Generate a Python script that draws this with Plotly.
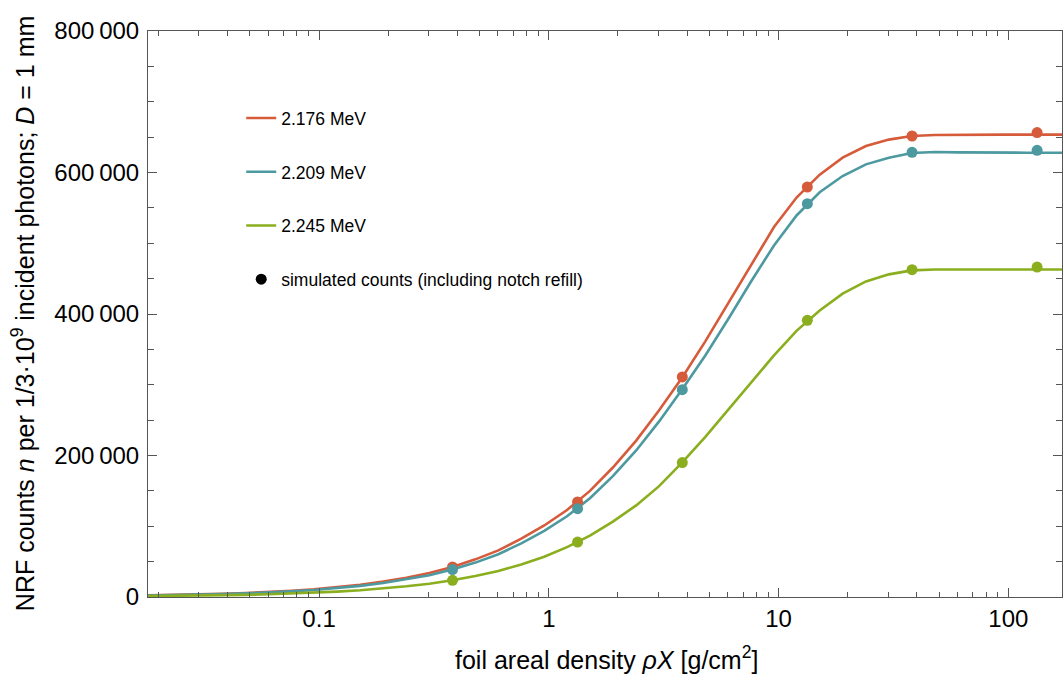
import plotly.graph_objects as go

# ---------------- data ----------------
# curve sample positions (foil areal density, g/cm^2)
x_curve = [0.0151, 0.019, 0.024, 0.030, 0.038, 0.048, 0.060, 0.076, 0.095, 0.120,
           0.151, 0.190, 0.240, 0.302, 0.380, 0.479, 0.603, 0.759, 0.955, 1.20,
           1.51, 1.90, 2.40, 3.02, 3.80, 4.79, 6.03, 7.59, 9.55, 12.0,
           15.1, 19.0, 24.0, 30.2, 38.0, 47.9, 60.3, 75.9, 95.5, 120.0,
           151.0, 190.0]

# NRF counts along the curves
red_curve = [1770, 2220, 2800, 3500, 4430, 5590, 6970, 8810, 10990, 13850,
             17360, 21750, 27320, 33900, 42500, 53200, 65900, 82500, 101100, 123000,
             150000, 183000, 221000, 264000, 310000, 361000, 415000, 471000, 523000, 565000,
             597000, 621000, 637500, 646500, 651500, 653000, 653500, 653500, 653500, 653500,
             653500, 653500]
teal_curve = [1600, 2010, 2530, 3170, 4010, 5060, 6310, 7980, 9950, 12550,
              15730, 19750, 24800, 30800, 38800, 48600, 60400, 75900, 93500, 114100,
              139600, 170900, 207100, 248200, 293300, 341100, 392600, 446000, 496900, 539600,
              572000, 595000, 611500, 621000, 627500, 629000, 628500, 628000, 628000, 628000,
              628000, 628000]
green_curve = [960, 1210, 1530, 1910, 2420, 3060, 3820, 4830, 6030, 7610,
               9550, 11980, 15080, 18760, 23600, 29650, 36700, 46000, 56900, 70400,
               86600, 106600, 129500, 156700, 190000, 226000, 264000, 303000, 341500, 376500,
               405000, 428800, 446000, 456000, 461700, 463000, 463000, 463000, 463000, 463000,
               463000, 463000]

# simulated points
x_points = [0.381, 1.334, 3.81, 13.34, 38.1, 133.4]
red_points = [42400, 134300, 311000, 579500, 651600, 656400]
teal_points = [38700, 124900, 293100, 556000, 628500, 631400]
green_points = [23600, 77700, 190000, 391000, 462700, 466400]

series_names = ["2.176 MeV", "2.209 MeV", "2.245 MeV"]
points_name = "simulated counts (including notch refill)"

x_tickvals = [0.1, 1, 10, 100]
x_ticktext = ["0.1", "1", "10", "100"]
x_minor = [m * d for d in [0.01, 0.1, 1, 10, 100] for m in range(2, 10)]
y_tickvals = [0, 200000, 400000, 600000, 800000]
y_ticktext = ["0", "200\u2009000", "400\u2009000", "600\u2009000", "800\u2009000"]

x_title = "foil areal density <i>ρX</i> [g/cm<sup>2</sup>]"
y_title = "NRF counts <i>n</i> per 1/3·10<sup>9</sup> incident photons; <i>D</i> = 1 mm"

colors = ["#D65B3B", "#4D99A0", "#8AAE1E"]
FONT = "Liberation Sans, Arial, Helvetica, sans-serif"
FRAME = "#555555"

fig = go.Figure()

curves = [red_curve, teal_curve, green_curve]
pts = [red_points, teal_points, green_points]

for name, ys, c in zip(series_names, curves, colors):
    fig.add_trace(go.Scatter(x=x_curve, y=ys, mode="lines", name=name,
                             legendgroup=name,
                             line=dict(color=c, width=2.6)))

for name, ys, c in zip(series_names, pts, colors):
    fig.add_trace(go.Scatter(x=x_points, y=ys, mode="markers", showlegend=False,
                             legendgroup=name,
                             marker=dict(color=c, size=11, line=dict(width=0))))

# legend-only entry for the simulated points
fig.add_trace(go.Scatter(x=[None], y=[None], mode="markers", name=points_name,
                         legendgroup="pts",
                         marker=dict(color="black", size=11)))

fig.update_layout(
    width=1063, height=677,
    margin=dict(l=148, r=1, t=31, b=80, autoexpand=False),
    paper_bgcolor="white", plot_bgcolor="white",
    font=dict(family=FONT, color="black", size=24),
    showlegend=True,
    legend=dict(x=0.102, y=0.878, xanchor="left", yanchor="top",
                bgcolor="rgba(0,0,0,0)", borderwidth=0,
                font=dict(family=FONT, size=17.5, color="black"),
                tracegroupgap=28, itemwidth=30),
    annotations=[
        dict(text=x_title, xref="paper", yref="paper", x=0.502, y=-0.108,
             xanchor="center", yanchor="middle", showarrow=False,
             font=dict(family=FONT, size=25, color="black")),
        dict(text=y_title, xref="paper", yref="paper", x=-0.136, y=0.501,
             xanchor="center", yanchor="middle", showarrow=False, textangle=-90,
             font=dict(family=FONT, size=25, color="black")),
    ],
)

fig.update_xaxes(
    type="log", range=[-1.7445, 2.2335], automargin=False,
    tickmode="array", tickvals=x_tickvals, ticktext=x_ticktext,
    ticks="inside", ticklen=9, tickwidth=1, tickcolor=FRAME,
    showline=True, linecolor=FRAME, linewidth=1, mirror="ticks",
    showgrid=False, zeroline=False,
    tickfont=dict(family=FONT, size=24, color="black"),
    minor=dict(tickmode="array", tickvals=x_minor, ticks="inside", ticklen=5,
               tickwidth=1, tickcolor=FRAME, showgrid=False),
)

fig.update_yaxes(
    range=[0, 800000], automargin=False,
    tickmode="array", tickvals=y_tickvals, ticktext=y_ticktext,
    ticks="inside", ticklen=9, tickwidth=1, tickcolor=FRAME,
    showline=True, linecolor=FRAME, linewidth=1, mirror="ticks",
    showgrid=False, zeroline=False, ticklabelstandoff=3,
    tickfont=dict(family=FONT, size=24, color="black"),
    minor=dict(dtick=50000, ticks="inside", ticklen=6, tickwidth=1,
               tickcolor=FRAME, showgrid=False),
)

fig.write_html("out.html",
               config={"displayModeBar": False},
               post_script="document.body.style.margin='0px';"
                           "document.body.style.overflow='hidden';")
